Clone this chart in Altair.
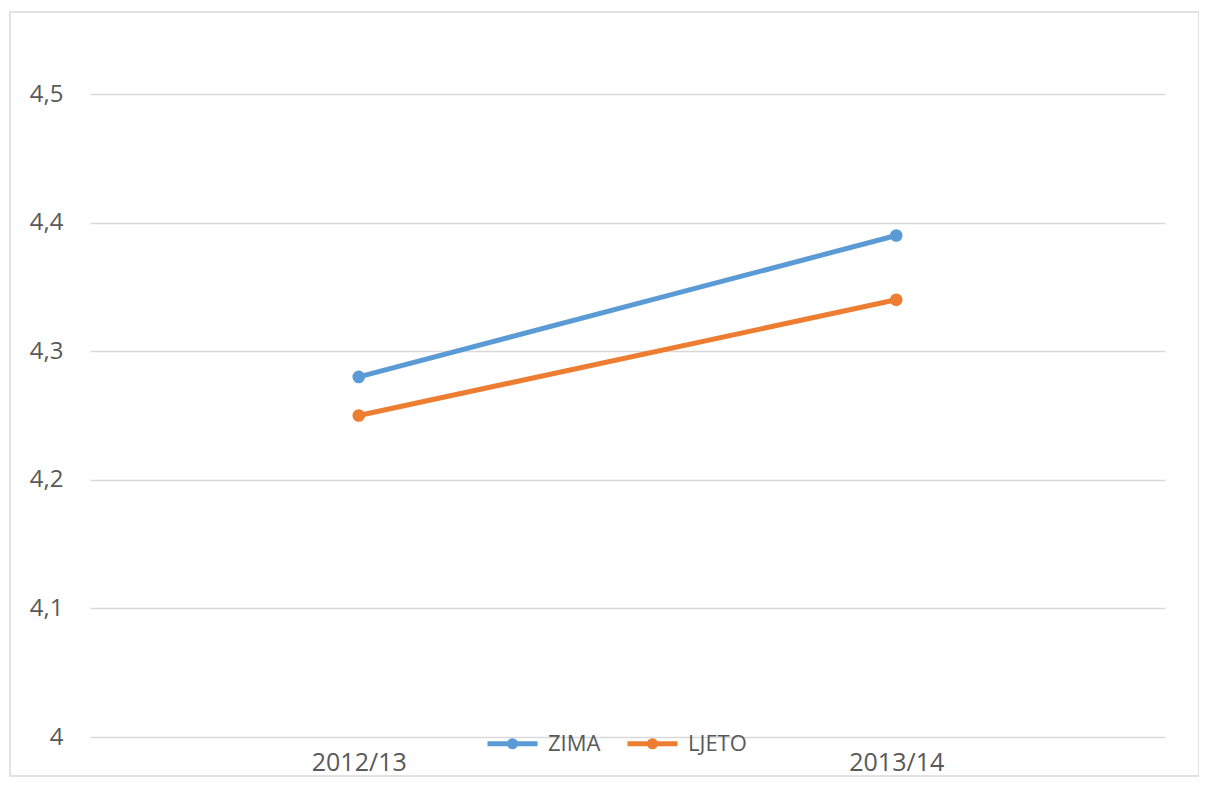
import altair as alt
import pandas as pd

seasons = ["2012/13", "2013/14"]
series = ["ZIMA", "LJETO"]
zima = [4.28, 4.39]
ljeto = [4.25, 4.34]
colors = ["#5B9BD5", "#ED7D31"]
y_ticks = [4.0, 4.1, 4.2, 4.3, 4.4, 4.5]

rows = []
for name, vals in zip(series, [zima, ljeto]):
    for s, v in zip(seasons, vals):
        rows.append({"season": s, "series": name, "value": v})
df = pd.DataFrame(rows)

FONT = "Open Sans"
GRAY = "#595959"
GRID = "#d9d9d9"

legend_symbol = ("M-1,0 H1 "
                 "M0.12,0 A0.12,0.12 0 1,1 -0.12,0 A0.12,0.12 0 1,1 0.12,0 Z")

x_enc = alt.X("season:N", sort=seasons, title=None,
              scale=alt.Scale(type="point", padding=0.5),
              axis=alt.Axis(labelAngle=0, labelFont=FONT, labelFontSize=25,
                            labelColor=GRAY, ticks=False, domain=False,
                            grid=False, labelPadding=33,
                            labelBaseline="alphabetic"))
y_enc = alt.Y("value:Q", title=None,
              scale=alt.Scale(domain=[4.0, 4.5], nice=False, zero=False),
              axis=alt.Axis(values=y_ticks, labelFont=FONT, labelFontSize=24,
                            labelColor=GRAY, ticks=False, domain=False,
                            grid=True, gridColor=GRID, gridWidth=1.3,
                            labelPadding=27,
                            labelExpr="replace(format(datum.value, '.1~f'), '.', ',')"))
color_enc = alt.Color("series:N", sort=series,
                      scale=alt.Scale(domain=series, range=colors),
                      legend=alt.Legend(orient="none", direction="horizontal",
                                        legendX=395, legendY=622, title=None,
                                        symbolType=legend_symbol, symbolSize=2500,
                                        symbolStrokeWidth=5,
                                        labelFont=FONT, labelFontSize=22,
                                        labelColor=GRAY, labelOffset=8,
                                        columnPadding=16))

base = alt.Chart(df)
lines = base.mark_line(strokeWidth=5, strokeCap="round").encode(
    x=x_enc, y=y_enc, color=color_enc)
points = base.mark_point(filled=True, size=160, opacity=1).encode(
    x=x_enc, y=y_enc, color=color_enc)

frame = alt.Chart(alt.Data(values=[{}])).mark_rect(
    fill=None, stroke=GRID, strokeWidth=1.5).encode(
    x=alt.value(-80), x2=alt.value(1109), y=alt.value(-82), y2=alt.value(682))

chart = alt.layer(frame, lines, points).properties(
    width=1075, height=643,
    padding={"left": 82, "top": 86, "right": 34, "bottom": 40},
    autosize=alt.AutoSizeParams(type="none"),
).configure(background="white").configure_view(stroke=None)

chart.save("out.html", embed_options={"renderer": "svg", "actions": False})
